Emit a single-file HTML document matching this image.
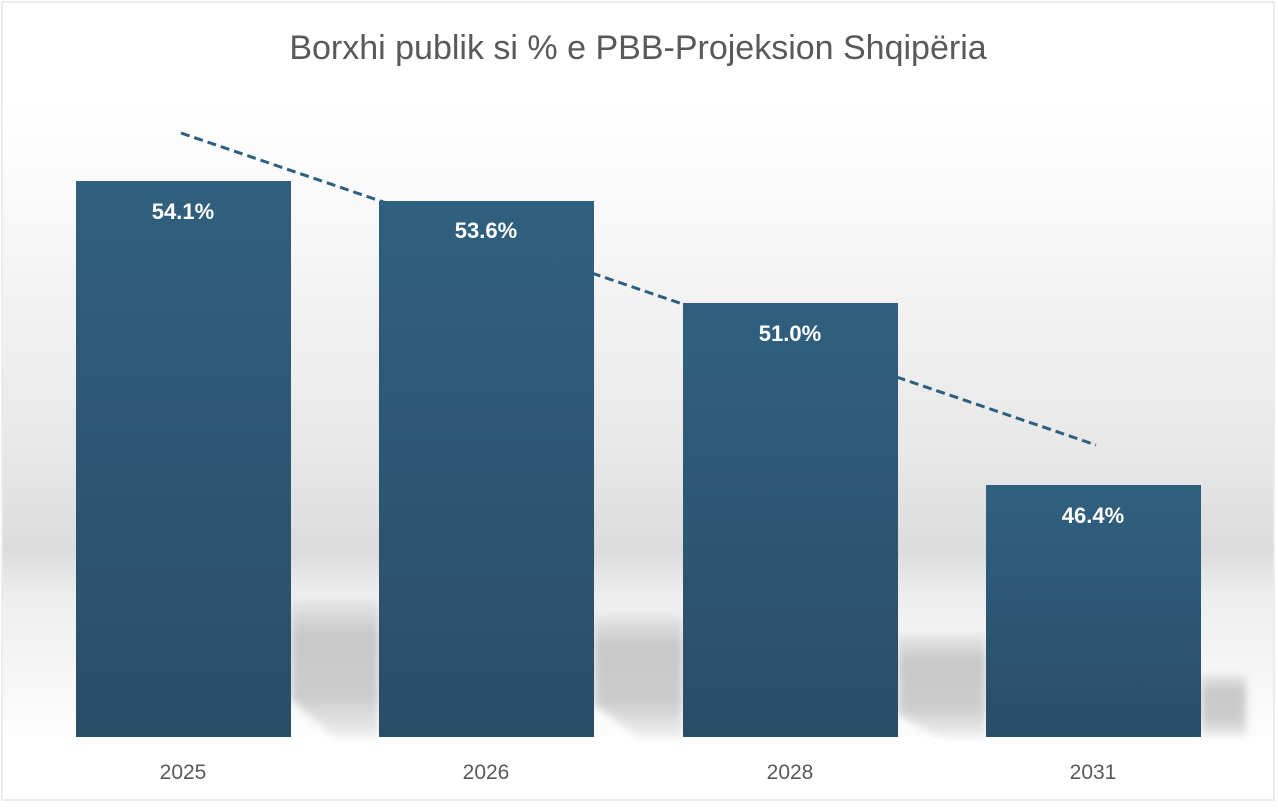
<!DOCTYPE html>
<html><head><meta charset="utf-8"><style>
body{margin:0;width:1278px;height:806px;overflow:hidden;background:#fff;font-family:"Liberation Sans",sans-serif}
</style></head><body>
<svg width="1278" height="806" xmlns="http://www.w3.org/2000/svg">
<defs>
<linearGradient id="bg" x1="0" y1="0" x2="0" y2="1">
<stop offset="0" stop-color="#ffffff"/><stop offset="0.15" stop-color="#fafafa"/>
<stop offset="0.55" stop-color="#e8e8e8"/><stop offset="0.71" stop-color="#dcdcdc"/>
<stop offset="0.78" stop-color="#eeeeee"/><stop offset="1" stop-color="#fdfdfd"/>
</linearGradient>
<linearGradient id="bar" x1="0" y1="0" x2="0" y2="1">
<stop offset="0" stop-color="#30607f"/><stop offset="1" stop-color="#2a4d68"/>
</linearGradient>
<linearGradient id="sh" x1="0" y1="0" x2="0" y2="1">
<stop offset="0" stop-color="#e6e6e6"/><stop offset="0.25" stop-color="#c4c4c4"/><stop offset="0.7" stop-color="#c8c8c8"/><stop offset="1" stop-color="#eeeeee"/>
</linearGradient>
<filter id="bl"><feGaussianBlur stdDeviation="4"/></filter>
</defs>
<rect x="0" y="0" width="1278" height="806" fill="#fff"/>
<rect x="2" y="2" width="1272" height="798" fill="#fff" stroke="#d9d9d9" stroke-width="1"/>
<rect x="3" y="95" width="1270" height="642" fill="url(#bg)"/>
<g filter="url(#bl)" opacity="0.9">
<polygon points="291,600 379,600 379,737 335,737 291,700" fill="url(#sh)"/>
<polygon points="594,615 683,615 683,737 640,737 594,705" fill="url(#sh)"/>
<polygon points="898,635 986,635 986,737 940,737 898,715" fill="url(#sh)"/>
<polygon points="1201,675 1246,675 1246,737 1201,737" fill="url(#sh)"/>
</g>
<rect x="76" y="181" width="215" height="556" fill="url(#bar)"/>
<rect x="379" y="201" width="215" height="536" fill="url(#bar)"/>
<rect x="683" y="303" width="215" height="434" fill="url(#bar)"/>
<rect x="986" y="485" width="215" height="252" fill="url(#bar)"/>
<line x1="181" y1="133" x2="1096" y2="445" stroke="#2e5f80" stroke-width="3" stroke-dasharray="9,5"/>
<g fill="#fff" font-weight="bold" font-size="22" text-anchor="middle">
<text x="183" y="219">54.1%</text><text x="486" y="238">53.6%</text>
<text x="790" y="341">51.0%</text><text x="1093" y="523">46.4%</text>
</g>
<g fill="#595959" font-size="21" text-anchor="middle">
<text x="183" y="779">2025</text><text x="486" y="779">2026</text>
<text x="790" y="779">2028</text><text x="1093" y="779">2031</text>
</g>
<text x="638" y="59" fill="#595959" font-size="34" text-anchor="middle">Borxhi publik si % e PBB-Projeksion Shqipëria</text>
</svg>
</body></html>
